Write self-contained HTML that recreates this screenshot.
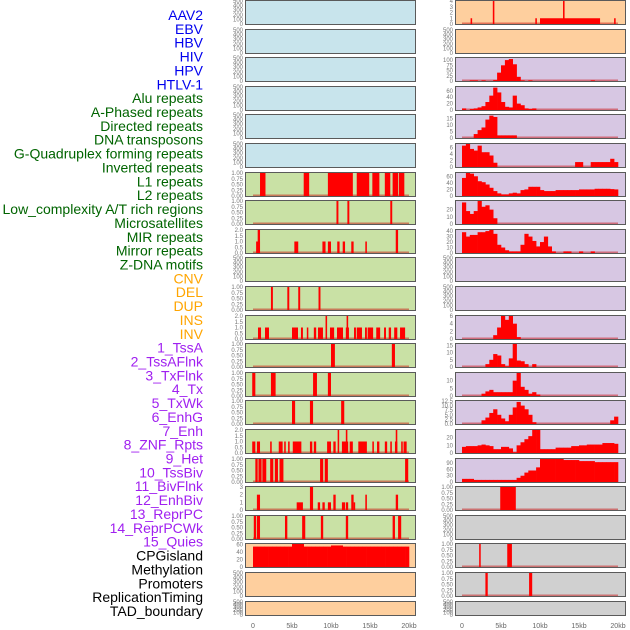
<!DOCTYPE html>
<html><head><meta charset="utf-8"><style>
html,body{margin:0;padding:0;background:#fff;width:630px;height:630px;overflow:hidden}
svg{display:block;font-family:"Liberation Sans",sans-serif}
</style></head><body>
<svg id="chart" width="630" height="630" viewBox="0 0 630 630"></svg>
<script>
// ---- category labels ----
const labels=["AAV2","EBV","HBV","HIV","HPV","HTLV-1","Alu repeats","A-Phased repeats","Directed repeats","DNA transposons","G-Quadruplex forming repeats","Inverted repeats","L1 repeats","L2 repeats","Low_complexity A/T rich regions","Microsatellites","MIR repeats","Mirror repeats","Z-DNA motifs","CNV","DEL","DUP","INS","INV","1_TssA","2_TssAFlnk","3_TxFlnk","4_Tx","5_TxWk","6_EnhG","7_Enh","8_ZNF_Rpts","9_Het","10_TssBiv","11_BivFlnk","12_EnhBiv","13_ReprPC","14_ReprPCWk","15_Quies","CPGisland","Methylation","Promoters","ReplicationTiming","TAD_boundary"];
const labelGroups=[6,13,5,15,5];
const xTickValues=[0,5,10,15,20];
const xTickLabels=["0","5kb","10kb","15kb","20kb"];
// ---- left column interval data [startKb,endKb,value] ----
const leftRow6=[[0.9,1.6,1],[6.5,7.2,1],[9.6,12.8,1],[13.3,14.9,1],[15.3,16.2,1],[16.9,17.6,1],[17.9,18.6,1],[18.7,19.4,1]];
const leftRow7=[[10.7,10.95,1],[12.1,12.35,1],[17.6,17.85,1]];
const leftRow8=[[0.4,0.9,1],[0.6,0.9,2],[5.3,5.8,1],[8.9,9.3,1],[9.6,10.0,1],[10.8,11.1,1],[11.5,11.8,1],[12.6,12.9,1],[14.4,14.6,1],[18.3,18.6,2]];
const leftRow10=[[2.3,2.55,1],[4.4,4.65,1],[5.8,6.05,1],[8.4,8.65,1]];
const leftRow11=[[0.64,1.03,1],[1.54,2.05,1],[5.0,5.77,1],[6.15,6.4,1],[6.9,7.05,1],[7.8,8.1,1],[8.33,8.97,1],[9.3,9.5,2],[9.87,10.4,1],[10.77,11.54,1],[11.9,12.3,1],[12.0,12.2,2],[12.95,13.2,1],[13.3,13.97,1],[14.36,14.6,1],[14.7,15.4,1],[15.8,16.3,1],[16.8,17.05,1],[17.4,17.7,1],[18.1,18.5,1],[18.85,19.5,1]];
const leftRow12=[[10.0,10.5,1],[17.8,18.2,1]];
const leftRow13=[[-0.1,0.3,1],[2.3,2.9,1],[7.7,8.2,1],[9.6,10.0,1]];
const leftRow14=[[5.0,5.4,1],[7.3,7.7,1],[11.3,11.7,1]];
const leftRow15=[[-0.1,0.3,1],[0.5,0.9,1],[2.2,2.4,1],[3.3,3.8,1],[4.0,4.2,1],[4.5,4.7,1],[5.1,6.2,1],[7.3,7.6,1],[7.8,8.1,1],[9.5,10.0,1],[10.3,10.6,1],[10.85,11.05,2],[11.4,12.2,1],[11.9,12.1,2],[12.4,12.8,1],[13.5,14.6,1],[15.3,15.5,1],[15.9,16.2,1],[16.9,17.2,1],[17.6,17.8,1],[18.2,18.5,1],[18.3,18.5,2],[19.0,19.2,1],[19.3,19.7,1]];
const leftRow16=[[0.3,0.6,1],[0.7,1.1,1],[1.2,1.7,1],[2.2,2.6,1],[2.8,3.2,1],[3.4,3.9,1],[8.6,9.0,1],[9.2,9.6,1],[19.5,19.9,1]];
const leftRow17=[[0.5,0.9,2],[5.6,6.4,1],[7.3,7.7,3],[8.3,8.6,1],[8.9,9.2,1],[9.6,10.0,1],[10.3,10.6,2],[11.4,11.8,1],[11.9,12.2,1],[12.6,12.9,2],[12.9,13.1,1],[14.4,14.6,2],[18.3,18.6,2]];
const leftRow18=[[0.1,0.4,1],[0.5,0.9,1],[4.1,4.4,1],[6.3,6.7,1],[8.7,9.0,1],[11.9,12.2,1],[17.9,18.2,1],[18.6,19.0,1]];
// ---- histogram data, 40 bins of 0.5kb ----
const leftCpg=[55,55,55,55,55,55,55,55,55,55,62,62,62,55,55,55,55,55,55,55,58,58,58,55,55,55,55,55,55,55,55,55,55,55,55,55,55,55,55,55];
const rightRow0=[[1.1,1.3,1],[3.95,4.15,4],[9.4,9.6,1],[10,17.7,1],[12.95,13.15,4],[19.5,19.7,1]];
const rightRow2=[0,0,3,3,0,3,0,0,5,40,75,100,105,80,20,3,0,3,0,0,0,0,0,0,0,0,0,0,0,0,0,0,0,3,0,0,0,0,0,0];
const rightRow3=[5,0,3,5,8,12,25,45,70,55,25,10,8,45,20,15,5,3,5,0,0,0,0,0,0,0,0,0,0,0,0,0,0,0,0,0,0,0,0,0];
const rightRow4=[0,0,0,3,6,8,14,17,16,2,2,2,2,2,0,0,0,0,0,0,0,0,0,0,0,0,0,0,0,0,0,0,0,0,0,0,0,0,0,0];
const rightRow5=[6.5,7,5.5,5,6.5,4.5,4.5,3.5,1.3,0,0,0,0,0,0,0,0,0,0,0,0,0,0,0,0,0,0,0,0,1.5,1.5,0,0,1.5,1.5,1.5,1.5,1.5,2.5,1.5];
const rightRow6=[55,70,68,60,45,42,35,25,15,8,5,5,8,10,8,18,20,28,28,28,18,15,15,15,18,18,18,18,18,18,20,20,20,20,22,22,22,22,21,20];
const rightRow7=[30,18,14,18,32,24,26,20,8,0,0,0,0,0,0,0,0,0,0,0,0,0,0,0,0,0,0,0,0,0,0,0,0,0,0,0,0,0,0,0];
const rightRow8=[38,30,33,33,38,38,40,42,35,15,10,5,3,3,3,15,35,30,22,12,20,30,12,3,0,0,3,3,0,0,3,0,0,3,0,0,0,0,0,0];
const rightRow11=[0,0,0,0,0,0,0,0,1,3,6,5,6,4,0.5,0,0,0,0,0,0,0,0,0,0,0,0,0,0,0,0,0,0,0,0,0,0,0,0,0];
const rightRow12=[0,0,0,0,0,0,2,5,9,8,2,0.5,6,16,4.5,4,2,0,2,0,0,0,0,0,0,0,0,0,0,0,0,0,0,0,0,0,0,0,0,0];
const rightRow13=[0,0,0,0,0,1.5,3,4,2.5,2.5,2.5,2.5,2.5,10,15,6,4,1.5,2.5,1,0,0,0,0,0,0,0,0,0,0,0,0,0,0,0,0,0,0,0,0];
const rightRow14=[0,0,0,0,0,2,3.5,6,8,5,3,1.5,5,9,12,10,8,5,1,0,0,0,0,0,0,0,0,0,0,0,0,0,0,0,0,0,0,0,2,4];
const rightRow15=[8,9,9,9,10,11,10,9,5,5,8,8,6,1,10,14,18,22,30,30,5,5,5,5,7,7,7,7,9,9,10,10,11,11,11,11,13,13,13,12];
const rightRow16=[15,15,15,10,10,10,10,10,10,10,10,10,10,10,20,30,45,55,55,70,110,110,110,110,110,110,105,105,105,105,100,100,100,100,95,95,95,95,95,95];
const rightRow17=[[4.9,6.9,1]];
const rightRow19=[[2.2,2.4,1],[5.8,6.4,1]];
const rightRow20=[[3.0,3.3,1],[8.6,9.0,1]];
// ---- tick label sets ----
const ticksEmpty=["0","100","200","300","400","500"];
const ticksUnit=["0.00","0.25","0.50","0.75","1.00"];
const ticksTwo=["0.0","0.5","1.0","1.5","2.0"];

const svg=document.getElementById('chart');
const NS='http://www.w3.org/2000/svg';
function mk(tag,attrs,parent){const e=document.createElementNS(NS,tag);for(const k in attrs)e.setAttribute(k,attrs[k]);(parent||svg).appendChild(e);return e;}
const COL={b:'#c8e4ec',o:'#fecf9e',p:'#d7c7e3',g:'#c9e1a5',y:'#d0d0d0'};
const leftColors='bbbbbbgggggggggggggooo';
const rightColors='oopppppppppppppppyyyyy';
function rowTop(i){return Math.round(i*28.6);}
function rowH(i){return i===21?15:25;}
function xs(col,kb){return (col===0?253:462)+kb*7.8;}

const leftSpec={6:[leftRow6,'iv',1,ticksUnit],7:[leftRow7,'iv',1,ticksUnit],8:[leftRow8,'iv',2,ticksTwo],10:[leftRow10,'iv',1,ticksUnit],11:[leftRow11,'iv',2,ticksTwo],12:[leftRow12,'iv',1,ticksUnit],13:[leftRow13,'iv',1,ticksUnit],14:[leftRow14,'iv',1,ticksUnit],15:[leftRow15,'iv',2,ticksTwo],16:[leftRow16,'iv',1,ticksUnit],17:[leftRow17,'iv',3,["0","1","2","3"]],18:[leftRow18,'iv',1,ticksUnit],19:[leftCpg,'h',62,["0","20","40","60"],[0,20,40,60]]};
const rightSpec={0:[rightRow0,'iv',4,["0","1","2","3","4"]],2:[rightRow2,'h',110,["0","25","50","75","100"],[0,25,50,75,100]],3:[rightRow3,'h',72,["0","20","40","60"],[0,20,40,60]],4:[rightRow4,'h',17.5,["0","5","10","15"],[0,5,10,15]],5:[rightRow5,'h',7,["0","2","4","6"],[0,2,4,6]],6:[rightRow6,'h',70,["0","20","40","60"],[0,20,40,60]],7:[rightRow7,'h',32,["0","10","20"],[0,10,20]],8:[rightRow8,'h',42,["0","10","20","30","40"],[0,10,20,30,40]],11:[rightRow11,'h',6,["0","2","4","6"],[0,2,4,6]],12:[rightRow12,'h',16,["0","5","10","15"],[0,5,10,15]],13:[rightRow13,'h',15,["0","5","10"],[0,5,10]],14:[rightRow14,'h',12.5,["0.0","2.5","5.0","7.5","10.0","12.5"],[0,2.5,5,7.5,10,12.5]],15:[rightRow15,'h',30,["0","10","20"],[0,10,20]],16:[rightRow16,'h',110,["0","30","60","90"],[0,30,60,90]],17:[rightRow17,'iv',1,ticksUnit],19:[rightRow19,'iv',1,ticksUnit],20:[rightRow20,'iv',1,ticksUnit]};

function drawPanel(col,i){
  const x0=col===0?245:455,w=171,t=rowTop(i),h=rowH(i);
  const g=mk('g',{});
  
  
  mk('rect',{x:x0+0.5,y:t+0.5,width:w-1,height:h-1,fill:COL[(col===0?leftColors:rightColors)[i]],stroke:'#5a5a5a','stroke-width':1},g);
  const spec=(col===0?leftSpec:rightSpec)[i];
  const yb=t+h-1,yt=t+1;
  let ymax=500,labs=ticksEmpty,vals=[0,100,200,300,400,500];
  if(spec){ymax=spec[2];labs=spec[3];vals=spec[4]||labs.map(parseFloat);}
  const ys=v=>yb-(v/ymax)*(yb-yt);
  labs.forEach((l,k)=>{
    const tx=mk('text',{x:x0-2,y:ys(vals[k])+2,'font-size':6,fill:'#777','text-anchor':'end'},g);
    
    
    tx.textContent=l;
  });
  if(!spec)return;
  mk('rect',{x:xs(col,0),y:yb-1.5,width:xs(col,20)-xs(col,0),height:1.5,fill:'rgba(200,0,0,0.45)'},g);
  if(spec[1]==='iv'){
    spec[0].forEach(d=>{
      const r=mk('rect',{x:xs(col,d[0]),y:ys(d[2]),width:Math.max(1.5,xs(col,d[1])-xs(col,d[0])),height:yb-ys(d[2]),fill:'#ff0000'},g);
      
      
    });
  }else{
    spec[0].forEach((v,k)=>{
      if(v<=0)return;
      const r=mk('rect',{x:xs(col,k*0.5),y:ys(v),width:xs(col,0.5)-xs(col,0)+0.3,height:yb-ys(v),fill:'#ff0000'},g);
      
      
    });
  }
}
for(let i=0;i<22;i++){drawPanel(0,i);drawPanel(1,i);}

// row labels
const gcol=['#0000ee','#006400','#ffa500','#a020f0','#000000'];
let idx=0;
labelGroups.forEach((n,gi)=>{
  for(let k=0;k<n;k++){
    const tx=mk('text',{x:203,y:15+idx*13.86,'font-size':14,fill:gcol[gi],'text-anchor':'end','dominant-baseline':'central'});
    
    
    tx.textContent=labels[idx];idx++;
  }
});
// x axis labels
[0,1].forEach(col=>{
  xTickValues.forEach((v,k)=>{
    const tx=mk('text',{x:xs(col,v),y:628,'font-size':7,fill:'#666','text-anchor':'middle'});
    
    
    tx.textContent=xTickLabels[k];
  });
});
</script>
</body></html>
